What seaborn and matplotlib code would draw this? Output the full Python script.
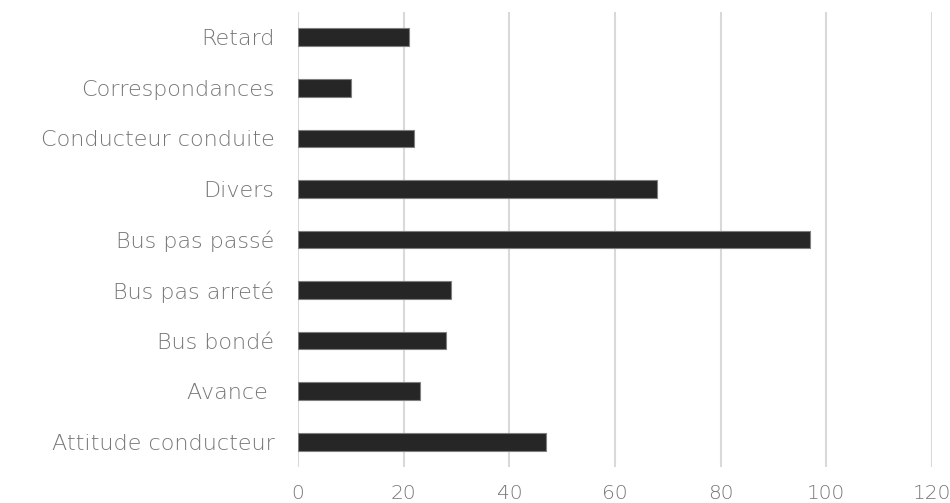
import matplotlib
matplotlib.use("Agg")
import matplotlib.pyplot as plt
import seaborn as sns
import pandas as pd

# categories listed top to bottom as in the chart
categories = [
    "Retard", "Correspondances", "Conducteur conduite", "Divers",
    "Bus pas passé", "Bus pas arreté", "Bus bondé", "Avance ",
    "Attitude conducteur",
]
counts = [21, 10, 22, 68, 97, 29, 28, 23, 47]
x_ticks = [0, 20, 40, 60, 80, 100, 120]

df = pd.DataFrame({"motif": categories, "n": counts})

sns.set_theme(style="white")
plt.rcParams["font.family"] = ["DejaVu Sans"]

fig = plt.figure(figsize=(9.5, 5.03), dpi=100)
ax = fig.add_axes([0.3137, 0.0716, 0.981 - 0.3137, 0.976 - 0.0716])

sns.barplot(data=df, x="n", y="motif", orient="h", color="#262626",
            width=0.35, edgecolor="#7f7f7f", linewidth=0.8,
            saturation=1, ax=ax)

ax.set_xlim(0, 120)
ax.set_ylim(len(categories) - 0.5, -0.5)
ax.set_xticks(x_ticks)
ax.set_xlabel("")
ax.set_ylabel("")
ax.set_axisbelow(True)
ax.grid(axis="x", color="#d9d9d9", linewidth=1.5)
ax.grid(axis="y", visible=False)
for s in ax.spines.values():
    s.set_visible(False)

ax.tick_params(axis="both", length=0, labelcolor="#767676")
ax.tick_params(axis="x", pad=12, labelsize=14.5)
ax.tick_params(axis="y", pad=17, labelsize=16)
for lab in ax.get_xticklabels() + ax.get_yticklabels():
    lab.set_fontweight("light")

fig.savefig("out.png", dpi=100)
